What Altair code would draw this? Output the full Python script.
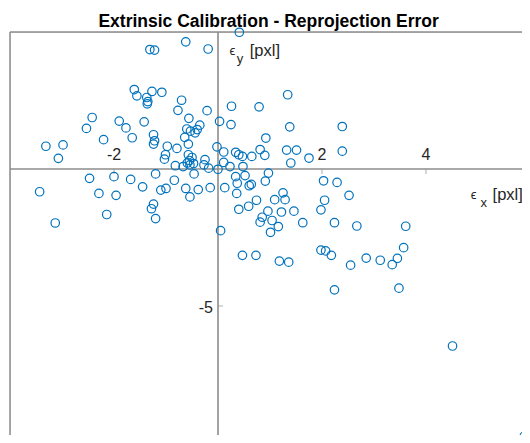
import altair as alt
import pandas as pd

# Reprojection error samples [pxl]
ex = [0.41, -0.62, -1.31, -1.22, -0.19, 1.34, -1.61, -1.56, -1.27, -1.08,
      -1.37, -1.35, -1.36, -0.70, -0.77, -0.21, 0.26, 0.79, -2.42, -2.53,
      -1.90, -1.77, -1.42, -1.65, -2.20, -0.56, 0.03, 0.25, -0.35, -0.60,
      -0.53, -0.44, -0.40, -0.64, -0.57, -1.24, -1.22, -1.24, 0.92, 1.38,
      2.39, -3.31, -2.98, -3.07, -0.975, -0.79, -1.01, -1.03, -0.82, -0.57,
      -0.55, -0.59, -0.54, -0.67, -0.25, -0.27, -0.18, -0.02, 0.11, 0.11,
      0.00, 0.23, 0.34, 0.40, 0.47, 0.48, 0.65, 0.81, 0.90, 1.32,
      1.51, 1.40, 1.75, 2.39, -2.47, -2.00, -1.68, -1.20, -1.45, -3.43,
      -2.29, -1.96, -1.10, -1.00, -0.84, -0.62, -0.54, -0.38, -0.15, -0.46,
      0.13, 0.34, 0.37, 0.36, 0.52, 0.60, 0.64, 0.97, 0.91, 0.74,
      0.59, 0.40, 1.09, 1.25, 1.29, 0.96, 0.85, 1.04, 0.81, 1.16,
      1.01, 1.22, 1.46, 1.63, 2.03, 2.29, 2.52, 2.05, 1.98, 2.24,
      2.67, 3.61, 0.05, -3.13, -2.14, -1.24, -1.28, -1.20, 0.47, 0.73,
      1.18, 1.36, 1.98, 2.07, 2.18, 2.55, 2.85, 3.12, 3.35, 3.45,
      3.57, 2.24, 3.48, 4.51, 5.89, -0.50, -0.47]
ey = [4.99, 4.64, 4.36, 4.34, 4.38, 2.71, 2.90, 2.67, 2.83, 2.80,
      2.61, 2.46, 2.38, 2.51, 2.14, 2.13, 2.29, 2.27, 1.88, 1.48,
      1.75, 1.50, 1.72, 1.14, 1.07, 1.85, 1.74, 1.62, 1.60, 1.46,
      1.38, 1.32, 1.44, 1.155, 0.91, 1.25, 1.03, 0.91, 1.13, 1.54,
      1.55, 0.83, 0.88, 0.39, 0.83, 0.75, 0.52, 0.36, 0.12, 0.52,
      0.31, 0.22, 0.15, 0.09, 0.34, 0.15, 0.03, 0.81, 0.62, 0.24,
      -0.01, 0.09, 0.61, 0.52, 0.46, 0.09, 0.46, 0.71, 0.50, 0.69,
      0.69, 0.22, 0.40, 0.65, -0.34, -0.28, -0.38, -0.18, -0.65, -0.83,
      -0.89, -0.96, -0.77, -0.71, -0.41, -0.71, -1.02, -0.75, -0.68, -0.18,
      -0.68, -0.28, -0.52, -0.89, -0.24, -0.61, -0.56, -0.15, -0.44, -1.14,
      -1.36, -1.47, -1.12, -0.87, -1.12, -1.54, -1.76, -1.88, -1.94, -2.10,
      -2.31, -1.57, -1.54, -1.96, -0.43, -0.49, -0.96, -1.14, -1.49, -1.96,
      -2.08, -2.09, -2.25, -1.97, -1.66, -1.28, -1.45, -1.81, -3.15, -3.15,
      -3.36, -3.40, -2.96, -2.99, -3.15, -3.51, -3.25, -3.33, -3.49, -3.26,
      -2.87, -4.41, -4.35, -6.46, -9.75, 0.42, 0.20]

x_ticks = [-2, 2, 4]
x_tick_labels = ["-2", "2", "4"]
y_ticks = [-5]
y_tick_labels = ["-5"]

TITLE = "Extrinsic Calibration - Reprojection Error"

# plot area (pixels) and scale density so the axes box runs to the window edge
W, H = 512, 403
PX_X, PX_Y = 52.0, 27.4
x_domain = [-4, -4 + W / PX_X]
y_domain = [5 - H / PX_Y, 5]

pts = pd.DataFrame({"ex": ex, "ey": ey})
xt = pd.DataFrame({"v": x_ticks, "lab": x_tick_labels, "zero": [0] * len(x_ticks)})
yt = pd.DataFrame({"v": y_ticks, "lab": y_tick_labels, "zero": [0] * len(y_ticks)})
origin = pd.DataFrame({"zero": [0]})
frame = pd.DataFrame({"left": [-4], "top": [5]})
ttl = pd.DataFrame({"t": [TITLE], "x": [sum(x_domain) / 2 + 0.05], "y": [5 + 5.5 / PX_Y]})

xs = alt.Scale(domain=x_domain, nice=False, zero=False)
ys = alt.Scale(domain=y_domain, nice=False, zero=False)

TXT = "#262626"
AX = "#8c8c8c"
FONT = "Liberation Sans"

# box edges visible in the reference (left and top)
box_left = alt.Chart(frame).mark_rule(color=AX, strokeWidth=1.5).encode(
    x=alt.X("left:Q", scale=xs, axis=None))
box_top = alt.Chart(frame).mark_rule(color=AX, strokeWidth=1.5).encode(
    y=alt.Y("top:Q", scale=ys, axis=None))

xaxis_line = alt.Chart(origin).mark_rule(color=AX, strokeWidth=1.6).encode(
    y=alt.Y("zero:Q", scale=ys, axis=None))
yaxis_line = alt.Chart(origin).mark_rule(color=AX, strokeWidth=1.6).encode(
    x=alt.X("zero:Q", scale=xs, axis=None))

xtick_marks = alt.Chart(xt).mark_tick(orient="vertical", size=5, thickness=1,
                                      color=AX, yOffset=2.5).encode(
    x=alt.X("v:Q", scale=xs, axis=None), y=alt.Y("zero:Q", scale=ys, axis=None))
ytick_marks = alt.Chart(yt).mark_tick(orient="horizontal", size=5, thickness=1,
                                      color=AX, xOffset=2.5).encode(
    x=alt.X("zero:Q", scale=xs, axis=None), y=alt.Y("v:Q", scale=ys, axis=None))

xtick_text = alt.Chart(xt).mark_text(font=FONT, fontSize=16, color=TXT,
                                     align="center", baseline="middle", dy=-14).encode(
    x=alt.X("v:Q", scale=xs, axis=None), y=alt.Y("zero:Q", scale=ys, axis=None),
    text="lab:N")
ytick_text = alt.Chart(yt).mark_text(font=FONT, fontSize=16, color=TXT,
                                     align="right", baseline="middle", dx=-5, dy=2).encode(
    x=alt.X("zero:Q", scale=xs, axis=None), y=alt.Y("v:Q", scale=ys, axis=None),
    text="lab:N")

points = alt.Chart(pts).mark_point(shape="circle", filled=False, size=72, strokeWidth=1.2,
                                   color="#0072BD", opacity=1, clip=False).encode(
    x=alt.X("ex:Q", scale=xs, axis=None),
    y=alt.Y("ey:Q", scale=ys, axis=None))

# axis name labels (epsilon, subscript, unit)
lab_txt = ["\u03f5", "y", "[pxl]", "\u03f5", "x", "[pxl]"]
lab_x = [0.22, 0.36, 0.61, 4.86, 5.05, 5.28]
lab_y = [4.15, 3.88, 4.11, -1.11, -1.39, -1.13]
lab_size = [13, 13, 16.5, 13, 13, 16.5]
labs = pd.DataFrame({"t": lab_txt, "x": lab_x, "y": lab_y, "s": lab_size})
name_labels = alt.Chart(labs).mark_text(font=FONT, color=TXT, align="left",
                                        baseline="alphabetic").encode(
    x=alt.X("x:Q", scale=xs, axis=None), y=alt.Y("y:Q", scale=ys, axis=None),
    text="t:N", size=alt.Size("s:Q", scale=None, legend=None))

title_mark = alt.Chart(ttl).mark_text(font=FONT, fontSize=17.5, fontWeight="bold",
                                      color="#000000", align="center",
                                      baseline="alphabetic", clip=False).encode(
    x=alt.X("x:Q", scale=xs, axis=None), y=alt.Y("y:Q", scale=ys, axis=None),
    text="t:N")

chart = alt.layer(
    box_left, box_top, xaxis_line, yaxis_line, xtick_marks, ytick_marks, points,
    xtick_text, ytick_text, name_labels, title_mark
).properties(
    width=W, height=H,
    autosize=alt.AutoSizeParams(type="none"),
    padding={"left": 2, "top": 24, "right": 0, "bottom": 0},
).configure_view(stroke=None).configure(background="white")

chart.save("out.html", embed_options={"renderer": "svg", "actions": False})
